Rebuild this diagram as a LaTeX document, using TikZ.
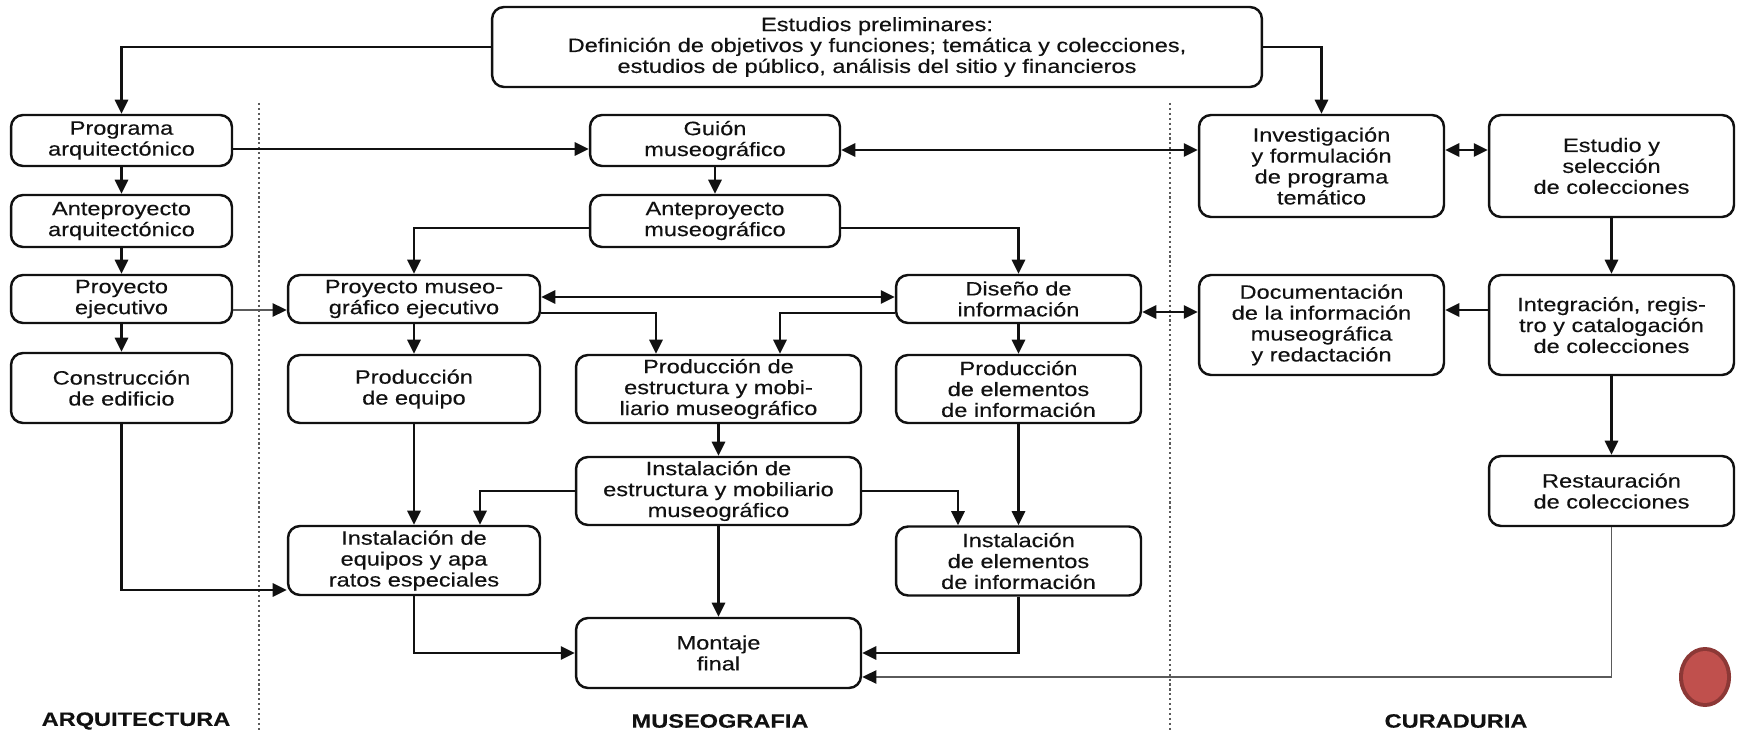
\documentclass[tikz,border=0pt]{standalone}
\usepackage{fontspec}
\setmainfont{Liberation Sans}[FakeStretch=1.22,FakeBold=0.3]
\usetikzlibrary{arrows.meta,calc}
\definecolor{museInk}{HTML}{111111}
\definecolor{museGrey}{HTML}{5A5A5A}
\definecolor{museRed}{HTML}{C0504D}
\definecolor{museRedDark}{HTML}{8C3836}
\tikzset{
  musebox/.style={draw=museInk,rounded corners=0.24cm,line width=1.4pt,align=center,
    inner sep=2pt,text=museInk,font=\fontsize{11}{11.9}\selectfont},
  musearrow/.style={-{Triangle[length=8pt,width=7.5pt]},line width=1.4pt,draw=museInk},
  musedouble/.style={{Triangle[length=8pt,width=7.5pt]}-{Triangle[length=8pt,width=7.5pt]},
    line width=1.4pt,draw=museInk},
  musethin/.style={-{Triangle[length=8pt,width=7.5pt,color=museInk]},line width=0.9pt,draw=museGrey},
  arealine/.style={draw=museGrey,line width=0.7pt,dash pattern=on 1.2pt off 1.6pt},
  arealabel/.style={font=\fontsize{11}{12}\selectfont\bfseries,text=museInk}
}

\begin{document}
\begin{tikzpicture}[x=0.02cm,y=-0.02cm]
  \useasboundingbox (0,0) rectangle (1737,732);

  % area separators and titles
  \draw[arealine] (259,103) -- (259,732);
  \draw[arealine] (1170,103) -- (1170,732);
  \node[arealabel] (arq) at (136,721) {ARQUITECTURA};
  \node[arealabel] (mus) at (720,721) {MUSEOGRAFIA};
  \node[arealabel] (cur) at (1456,721) {CURADURIA};

  \node[musebox,minimum width=15.4cm,minimum height=1.6cm] (estudios) at (877,47) {
    Estudios preliminares:\\
    Definición de objetivos y funciones; temática y colecciones,\\
    estudios de público, análisis del sitio y financieros};

  % arquitectura
  \node[musebox,minimum width=4.42cm,minimum height=1.02cm] (programa) at (121.5,140.5) {
    Programa\\arquitectónico};
  \node[musebox,minimum width=4.42cm,minimum height=1.04cm] (antearq) at (121.5,221) {
    Anteproyecto\\arquitectónico};
  \node[musebox,minimum width=4.42cm,minimum height=0.96cm] (proyej) at (121.5,299) {
    Proyecto\\ejecutivo};
  \node[musebox,minimum width=4.42cm,minimum height=1.4cm] (construccion) at (121.5,388) {
    Construcción\\de edificio};

  % museografia
  \node[musebox,minimum width=5.0cm,minimum height=1.02cm] (guion) at (715,140.5) {
    Guión\\museográfico};
  \node[musebox,minimum width=5.0cm,minimum height=1.04cm] (antemus) at (715,221) {
    Anteproyecto\\museográfico};
  \node[musebox,minimum width=5.04cm,minimum height=0.96cm] (proymus) at (414,299) {
    Proyecto museo-\\gráfico ejecutivo};
  \node[musebox,minimum width=4.9cm,minimum height=0.96cm] (diseno) at (1018.5,299) {
    Diseño de\\información};
  \node[musebox,minimum width=5.04cm,minimum height=1.36cm] (prodequipo) at (414,389) {
    Producción\\de equipo};
  \node[musebox,minimum width=5.7cm,minimum height=1.36cm] (prodestr) at (718.5,389) {
    Producción de\\estructura y mobi-\\liario museográfico};
  \node[musebox,minimum width=4.9cm,minimum height=1.36cm] (prodelem) at (1018.5,389) {
    Producción\\de elementos\\de información};
  \node[musebox,minimum width=5.7cm,minimum height=1.36cm] (instestr) at (718.5,491) {
    Instalación de\\estructura y mobiliario\\museográfico};
  \node[musebox,minimum width=5.04cm,minimum height=1.38cm] (instequipo) at (414,560.5) {
    Instalación de\\equipos y apa\\ratos especiales};
  \node[musebox,minimum width=4.9cm,minimum height=1.38cm] (instelem) at (1018.5,561) {
    Instalación\\de elementos\\de información};
  \node[musebox,minimum width=5.7cm,minimum height=1.4cm] (montaje) at (718.5,653) {
    Montaje\\final};

  % curaduria
  \node[musebox,minimum width=4.9cm,minimum height=2.04cm] (investig) at (1321.5,166) {
    Investigación\\y formulación\\de programa\\temático};
  \node[musebox,minimum width=4.9cm,minimum height=2.04cm] (estudio) at (1611.5,166) {
    Estudio y\\selección\\de colecciones};
  \node[musebox,minimum width=4.9cm,minimum height=2.0cm] (document) at (1321.5,325) {
    Documentación\\de la información\\museográfica\\y redactación};
  \node[musebox,minimum width=4.9cm,minimum height=2.0cm] (integra) at (1611.5,325) {
    Integración, regis-\\tro y catalogación\\de colecciones};
  \node[musebox,minimum width=4.9cm,minimum height=1.4cm] (restaura) at (1611.5,491) {
    Restauración\\de colecciones};

  \fill[museRedDark] (1705,677) ellipse [x radius=26, y radius=30];
  \fill[museRed] (1705,677) ellipse [x radius=22, y radius=26];

  % connectors
  \draw[musearrow] (estudios.west) -| (programa.north);
  \draw[musearrow] (estudios.east) -| (investig.north);
  \draw[musearrow] ([yshift=-0.17cm]programa.east) -- ([yshift=-0.17cm]guion.west);
  \draw[musearrow] (programa.south) -- (antearq.north);
  \draw[musearrow] (antearq.south) -- (proyej.north);
  \draw[musearrow] (proyej.south) -- (construccion.north);
  \draw[musethin] ([yshift=-0.22cm]proyej.east) -- ([yshift=-0.22cm]proymus.west);
  \draw[musearrow] (construccion.south) |- ([yshift=-0.59cm]instequipo.west);
  \draw[musedouble] ([yshift=-0.19cm]guion.east) -- ([yshift=-0.19cm]guion.east -| investig.west);
  \draw[musedouble] ([yshift=0.32cm]investig.east) -- ([yshift=0.32cm]estudio.west);
  \draw[musearrow] (guion.south) -- (antemus.north);
  \draw[musearrow] ([yshift=-0.14cm]antemus.west) -| (proymus.north);
  \draw[musearrow] ([yshift=-0.14cm]antemus.east) -| (diseno.north);
  \draw[musedouble] ([yshift=0.04cm]proymus.east) -- ([yshift=0.04cm]diseno.west);
  \draw[musearrow] ([yshift=-0.28cm]proymus.east) -| ([xshift=-1.25cm]prodestr.north);
  \draw[musearrow] ([yshift=-0.28cm]diseno.west) -| ([xshift=1.23cm]prodestr.north);
  \draw[musearrow] (proymus.south) -- (prodequipo.north);
  \draw[musearrow] (diseno.south) -- (prodelem.north);
  \draw[musedouble] ([yshift=-0.26cm]diseno.east) -- ([yshift=-0.26cm]diseno.east -| document.west);
  \draw[musearrow] (estudio.south) -- (integra.north);
  \draw[musearrow] ([yshift=0.3cm]integra.west) -- ([yshift=0.3cm]document.east);
  \draw[musearrow] (integra.south) -- (restaura.north);
  \draw[musearrow] (prodequipo.south) -- (instequipo.north);
  \draw[musearrow] (prodestr.south) -- (instestr.north);
  \draw[musearrow] (prodelem.south) -- (instelem.north);
  \draw[musearrow] (instestr.west) -| ([xshift=1.32cm]instequipo.north);
  \draw[musearrow] (instestr.east) -| ([xshift=-1.21cm]instelem.north);
  \draw[musearrow] (instestr.south) -- (montaje.north);
  \draw[musearrow] (instequipo.south) |- (montaje.west);
  \draw[musearrow] (instelem.south) |- (montaje.east);
  \draw[musethin] (restaura.south) |- ([yshift=-0.48cm]montaje.east);
\end{tikzpicture}
\end{document}
